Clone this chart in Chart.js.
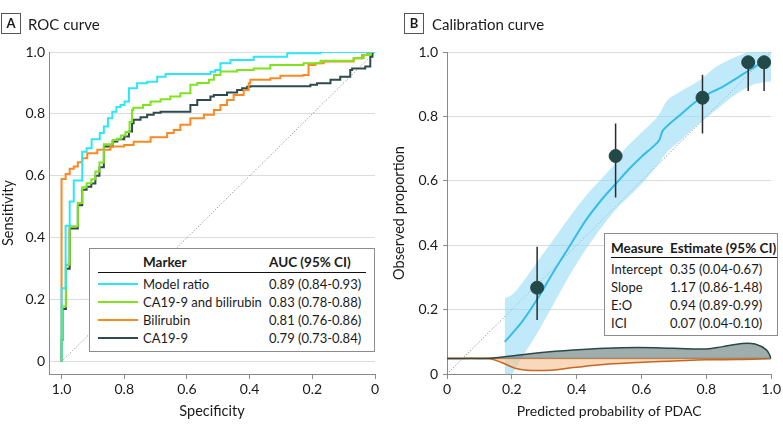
<!DOCTYPE html>
<html>
<head>
<meta charset="utf-8">
<script src="https://cdn.jsdelivr.net/npm/chart.js@4/dist/chart.umd.min.js"></script>
<style>
  body { margin: 0; background: #fff; font-family: Lato, "Open Sans", sans-serif; color: #1a1a1a; }
  #wrap { position: relative; width: 783px; height: 431px; overflow: hidden; }
  canvas { position: absolute; top: 0; }
  .tag { position: absolute; width: 18px; height: 19px; border: 1px solid #555; font-weight: bold;
         font-size: 13px; line-height: 19px; text-align: center; }
  .ptitle { position: absolute; font-size: 15px; line-height: 20px; }
  .box { position: absolute; background: #fff; border: 1.5px solid #8c8c8c; box-sizing: border-box; }
  .box div { position: absolute; font-size: 13px; line-height: 18px; white-space: nowrap; }
  .box .hd { font-weight: bold; font-size: 13.5px; }
  .box .rule { height: 0; border-top: 1.5px solid #111; }
  .box .swatch { height: 0; border-top: 2.5px solid; }
</style>
</head>
<body>
<div id="wrap">
  <canvas id="rocChart" width="391" height="431" style="left:0"></canvas>
  <canvas id="calChart" width="392" height="431" style="left:391px"></canvas>

  <div class="tag" style="left:1px; top:13px">A</div>
  <div class="ptitle" style="left:28px; top:14px">ROC curve</div>
  <div class="tag" style="left:404px; top:13px">B</div>
  <div class="ptitle" style="left:432px; top:14px">Calibration curve</div>

  <div class="box" id="aucBox" style="left:89px; top:248px; width:286px; height:104px"></div>
  <div class="box" id="measBox" style="left:604px; top:233px; width:174px; height:103px"></div>
</div>

<script>
// ---- Panel A: ROC curves (specificity, sensitivity corners, drawn as steps) ----
const modelSpec = [1.0, 1.0, 0.987, 0.974, 0.961, 0.934, 0.920, 0.904, 0.878, 0.865, 0.852, 0.838, 0.825, 0.812, 0.799, 0.785, 0.759, 0.727, 0.695, 0.668, 0.658, 0.525, 0.51, 0.493, 0.461, 0.387, 0.28, 0.174, 0.0];
const modelSens = [0, 0.13, 0.237, 0.439, 0.517, 0.585, 0.678, 0.689, 0.718, 0.738, 0.759, 0.786, 0.807, 0.822, 0.829, 0.84, 0.883, 0.899, 0.904, 0.92, 0.929, 0.929, 0.936, 0.942, 0.964, 0.974, 0.985, 0.996, 1.0];

const comboSpec = [1.0, 0.997, 0.986, 0.974, 0.948, 0.934, 0.92, 0.905, 0.892, 0.879, 0.865, 0.837, 0.822, 0.81, 0.796, 0.783, 0.775, 0.771, 0.74, 0.716, 0.684, 0.653, 0.621, 0.589, 0.567, 0.53, 0.514, 0.493, 0.44, 0.387, 0.334, 0.228, 0.174, 0.068, 0.036, 0.015, 0.0];
const comboSens = [0, 0.076, 0.178, 0.313, 0.437, 0.512, 0.563, 0.576, 0.589, 0.614, 0.643, 0.702, 0.716, 0.72, 0.73, 0.742, 0.774, 0.813, 0.82, 0.829, 0.84, 0.847, 0.856, 0.867, 0.894, 0.90, 0.91, 0.926, 0.937, 0.942, 0.947, 0.958, 0.964, 0.972, 0.98, 0.99, 1.0];

const biliSpec = [1.0, 1.0, 0.987, 0.974, 0.961, 0.948, 0.934, 0.918, 0.886, 0.844, 0.80, 0.77, 0.716, 0.663, 0.642, 0.621, 0.589, 0.546, 0.514, 0.493, 0.472, 0.451, 0.419, 0.403, 0.398, 0.334, 0.302, 0.228, 0.212, 0.19, 0.164, 0.068, 0.041, 0.025, 0.015, 0.0];
const biliSens = [0, 0.39, 0.59, 0.606, 0.623, 0.63, 0.644, 0.657, 0.673, 0.684, 0.695, 0.70, 0.71, 0.725, 0.738, 0.748, 0.765, 0.786, 0.797, 0.813, 0.829, 0.845, 0.861, 0.877, 0.899, 0.91, 0.915, 0.923, 0.926, 0.958, 0.964, 0.969, 0.98, 0.99, 0.996, 1.0];

const ca199Spec = [1.0, 0.997, 0.986, 0.974, 0.948, 0.934, 0.92, 0.905, 0.892, 0.879, 0.865, 0.837, 0.822, 0.80, 0.785, 0.775, 0.77, 0.748, 0.727, 0.706, 0.684, 0.589, 0.567, 0.525, 0.514, 0.472, 0.44, 0.424, 0.408, 0.398, 0.206, 0.185, 0.142, 0.111, 0.079, 0.073, 0.031, 0.015, 0.008, 0.0];
const ca199Sens = [0, 0.07, 0.17, 0.30, 0.43, 0.505, 0.555, 0.565, 0.575, 0.60, 0.628, 0.695, 0.711, 0.718, 0.727, 0.743, 0.77, 0.781, 0.789, 0.797, 0.804, 0.807, 0.829, 0.845, 0.856, 0.861, 0.869, 0.877, 0.883, 0.888, 0.889, 0.894, 0.899, 0.91, 0.92, 0.942, 0.947, 0.953, 0.985, 1.0];

const markerNames = ['Model ratio', 'CA19-9 and bilirubin', 'Bilirubin', 'CA19-9'];
const markerAuc = ['0.89 (0.84-0.93)', '0.83 (0.78-0.88)', '0.81 (0.76-0.86)', '0.79 (0.73-0.84)'];
const markerColors = ['#2fe6f7', '#7fe31e', '#fb8a24', '#2f4b50'];
const rocTicks = [0, 0.2, 0.4, 0.6, 0.8, 1.0];

// ---- Panel B: calibration ----
const calX = [0.178, 0.23, 0.28, 0.33, 0.38, 0.43, 0.48, 0.52, 0.56, 0.60, 0.64, 0.655, 0.665, 0.69, 0.72, 0.76, 0.80, 0.85, 0.90, 0.94, 0.975, 1.0];
const calY = [0.10, 0.16, 0.235, 0.32, 0.40, 0.48, 0.545, 0.59, 0.635, 0.675, 0.71, 0.727, 0.755, 0.78, 0.805, 0.84, 0.867, 0.892, 0.923, 0.948, 0.968, 0.965];

const bandX  = [0.178, 0.20, 0.23, 0.28, 0.33, 0.38, 0.43, 0.48, 0.52, 0.55, 0.60, 0.65, 0.68, 0.72, 0.78, 0.83, 0.88, 0.94, 0.98, 1.0];
const bandHi = [0.235, 0.245, 0.28, 0.35, 0.42, 0.49, 0.555, 0.61, 0.655, 0.70, 0.75, 0.80, 0.85, 0.877, 0.913, 0.954, 0.98, 1.006, 1.032, 1.06];
const bandLo = [0.0, 0.0, 0.05, 0.13, 0.22, 0.31, 0.39, 0.46, 0.51, 0.54, 0.59, 0.65, 0.69, 0.725, 0.78, 0.82, 0.861, 0.897, 0.906, 0.908];

const obsX  = [0.278, 0.52, 0.788, 0.929, 0.978];
const obsY  = [0.268, 0.677, 0.858, 0.968, 0.968];
const obsLo = [0.168, 0.548, 0.747, 0.879, 0.879];
const obsHi = [0.395, 0.778, 0.929, 0.988, 0.988];

const densBase = 0.048;
const densHiX = [0, 0.13, 0.2, 0.285, 0.39, 0.49, 0.59, 0.70, 0.80, 0.85, 0.91, 0.95, 0.985, 1.0];
const densHiY = [0.048, 0.049, 0.056, 0.066, 0.0745, 0.08, 0.082, 0.08, 0.078, 0.085, 0.095, 0.093, 0.075, 0.049];
const densLoX = [0, 0.13, 0.17, 0.21, 0.26, 0.32, 0.39, 0.49, 0.59, 0.70, 0.80, 0.90, 1.0];
const densLoY = [0.048, 0.047, 0.035, 0.018, 0.011, 0.012, 0.02, 0.03, 0.036, 0.04, 0.044, 0.045, 0.048];

const calTicks = [0, 0.2, 0.4, 0.6, 0.8, 1.0];
const measures = ['Intercept', 'Slope', 'E:O', 'ICI'];
const estimates = ['0.35 (0.04-0.67)', '1.17 (0.86-1.48)', '0.94 (0.89-0.99)', '0.07 (0.04-0.10)'];

const AXIS = '#8a8a8a';
const GRID = '#dcdcdc';
const CAL_LINE = '#35bde9';
const BAND = 'rgba(150, 220, 245, 0.6)';
const DOT = '#234848';

Chart.defaults.font.family = 'Lato, "Open Sans", sans-serif';
Chart.defaults.font.size = 14;
Chart.defaults.color = '#1a1a1a';

const zip = (xs, ys) => xs.map((x, i) => ({ x: x, y: ys[i] }));
const tickLabel = v => (v === 0 ? '0' : v.toFixed(1));

function rocLine(xs, ys, color) {
    return {
        data: zip(xs, ys),
        borderColor: color,
        borderWidth: 2,
        pointRadius: 0,
        stepped: 'after',
        fill: false
    };
}

// ROC chart
new Chart(document.getElementById('rocChart'), {
    type: 'line',
    data: {
        datasets: [
            rocLine(modelSpec, modelSens, markerColors[0]),
            rocLine(comboSpec, comboSens, markerColors[1]),
            rocLine(biliSpec, biliSens, markerColors[2]),
            rocLine(ca199Spec, ca199Sens, markerColors[3]),
            {
                data: [{ x: 1, y: 0 }, { x: 0, y: 1 }],
                borderColor: '#777',
                borderWidth: 1,
                borderDash: [1, 2],
                pointRadius: 0
            }
        ]
    },
    options: {
        responsive: false,
        animation: false,
        layout: { padding: { top: 52, right: 16, left: 0, bottom: 0 } },
        plugins: { legend: { display: false }, tooltip: { enabled: false } },
        scales: {
            x: {
                type: 'linear',
                reverse: true,
                min: 0,
                max: 1.04,
                afterBuildTicks: s => { s.ticks = rocTicks.map(v => ({ value: v })); },
                afterFit: s => { s.height = 57; },
                ticks: { callback: tickLabel, padding: 2, maxRotation: 0 },
                grid: { drawOnChartArea: false, tickLength: 5, color: AXIS },
                border: { color: AXIS },
                title: { display: true, text: 'Specificity', font: { size: 14.5 }, padding: { top: 4, bottom: 11 } }
            },
            y: {
                type: 'linear',
                min: -0.04,
                max: 1.0,
                afterBuildTicks: s => { s.ticks = rocTicks.map(v => ({ value: v })); },
                afterFit: s => { s.width = 49; },
                ticks: { callback: tickLabel, padding: 4 },
                grid: { color: GRID, drawTicks: false },
                border: { color: AXIS },
                title: { display: true, text: 'Sensitivity', font: { size: 14.5 }, padding: 0 }
            }
        }
    }
});

// error bars as one broken line
const errPts = [];
obsX.forEach((x, i) => {
    errPts.push({ x: x, y: obsLo[i] }, { x: x, y: obsHi[i] }, { x: x, y: null });
});

// Calibration chart
new Chart(document.getElementById('calChart'), {
    type: 'line',
    data: {
        datasets: [
            {
                type: 'scatter',
                data: zip(obsX, obsY),
                backgroundColor: DOT,
                borderColor: DOT,
                pointRadius: 6.5,
                showLine: false
            },
            {
                data: errPts,
                borderColor: '#2a2a2a',
                borderWidth: 1.5,
                pointRadius: 0,
                spanGaps: false,
                clip: false
            },
            {
                data: zip(calX, calY),
                borderColor: CAL_LINE,
                borderWidth: 2,
                pointRadius: 0,
                tension: 0.3
            },
            {
                data: zip(densHiX, densHiY),
                borderColor: '#2b4848',
                borderWidth: 1.5,
                backgroundColor: 'rgba(95, 120, 118, 0.6)',
                pointRadius: 0,
                tension: 0.4,
                fill: { value: densBase }
            },
            {
                data: zip(densLoX, densLoY),
                borderColor: '#c8651f',
                borderWidth: 1.5,
                backgroundColor: 'rgba(246, 196, 150, 0.65)',
                pointRadius: 0,
                tension: 0.4,
                fill: { value: densBase }
            },
            {
                data: [{ x: 0, y: densBase }, { x: 1, y: densBase }],
                borderColor: '#d0702a',
                borderWidth: 1.5,
                pointRadius: 0
            },
            {
                data: zip(bandX, bandHi),
                borderWidth: 0,
                borderColor: 'rgba(0,0,0,0)',
                backgroundColor: BAND,
                pointRadius: 0,
                tension: 0.3,
                fill: '+1',
                clip: false
            },
            {
                data: zip(bandX, bandLo),
                borderWidth: 0,
                borderColor: 'rgba(0,0,0,0)',
                pointRadius: 0,
                tension: 0.3,
                clip: false
            },
            {
                data: [{ x: 0, y: 0 }, { x: 1, y: 1 }],
                borderColor: '#777',
                borderWidth: 1,
                borderDash: [1, 2],
                pointRadius: 0
            }
        ]
    },
    options: {
        responsive: false,
        animation: false,
        layout: { padding: { top: 52, right: 11, left: 0, bottom: 0 } },
        plugins: { legend: { display: false }, tooltip: { enabled: false } },
        scales: {
            x: {
                type: 'linear',
                min: 0,
                max: 1,
                afterBuildTicks: s => { s.ticks = calTicks.map(v => ({ value: v })); },
                afterFit: s => { s.height = 57; },
                ticks: { callback: tickLabel, padding: 2, maxRotation: 0 },
                grid: { drawOnChartArea: false, tickLength: 5, color: AXIS },
                border: { color: AXIS },
                title: { display: true, text: 'Predicted probability of PDAC', font: { size: 14 }, padding: { top: 4, bottom: 11 } }
            },
            y: {
                type: 'linear',
                min: 0,
                max: 1,
                afterBuildTicks: s => { s.ticks = calTicks.map(v => ({ value: v })); },
                afterFit: s => { s.width = 56; },
                ticks: { callback: tickLabel, padding: 5 },
                grid: { color: GRID, tickColor: AXIS, tickLength: 4 },
                border: { color: AXIS },
                title: { display: true, text: 'Observed proportion', font: { size: 14.5 }, padding: { top: 0, bottom: 4 } }
            }
        }
    }
});

// ---- tables ----
function add(parent, cls, text, left, top, extra) {
    const d = document.createElement('div');
    if (cls) d.className = cls;
    if (text) d.textContent = text;
    d.style.left = left + 'px';
    d.style.top = top + 'px';
    Object.assign(d.style, extra || {});
    parent.appendChild(d);
    return d;
}

const aucBox = document.getElementById('aucBox');
add(aucBox, 'hd', 'Marker', 53, 4);
add(aucBox, 'hd', 'AUC (95% CI)', 179, 4);
add(aucBox, 'rule', '', 8, 23, { width: '268px' });
markerNames.forEach((name, i) => {
    const cy = 35 + i * 18;
    add(aucBox, 'swatch', '', 8, cy - 1, { width: '40px', borderTopColor: markerColors[i] });
    add(aucBox, '', name, 53, cy - 9);
    add(aucBox, '', markerAuc[i], 179, cy - 9);
});

const measBox = document.getElementById('measBox');
add(measBox, 'hd', 'Measure', 6, 5);
add(measBox, 'hd', 'Estimate (95% CI)', 65, 5);
add(measBox, 'rule', '', 6, 23, { width: '166px' });
measures.forEach((m, i) => {
    const cy = 35 + i * 18;
    add(measBox, '', m, 6, cy - 9);
    add(measBox, '', estimates[i], 65, cy - 9);
});
</script>
</body>
</html>
